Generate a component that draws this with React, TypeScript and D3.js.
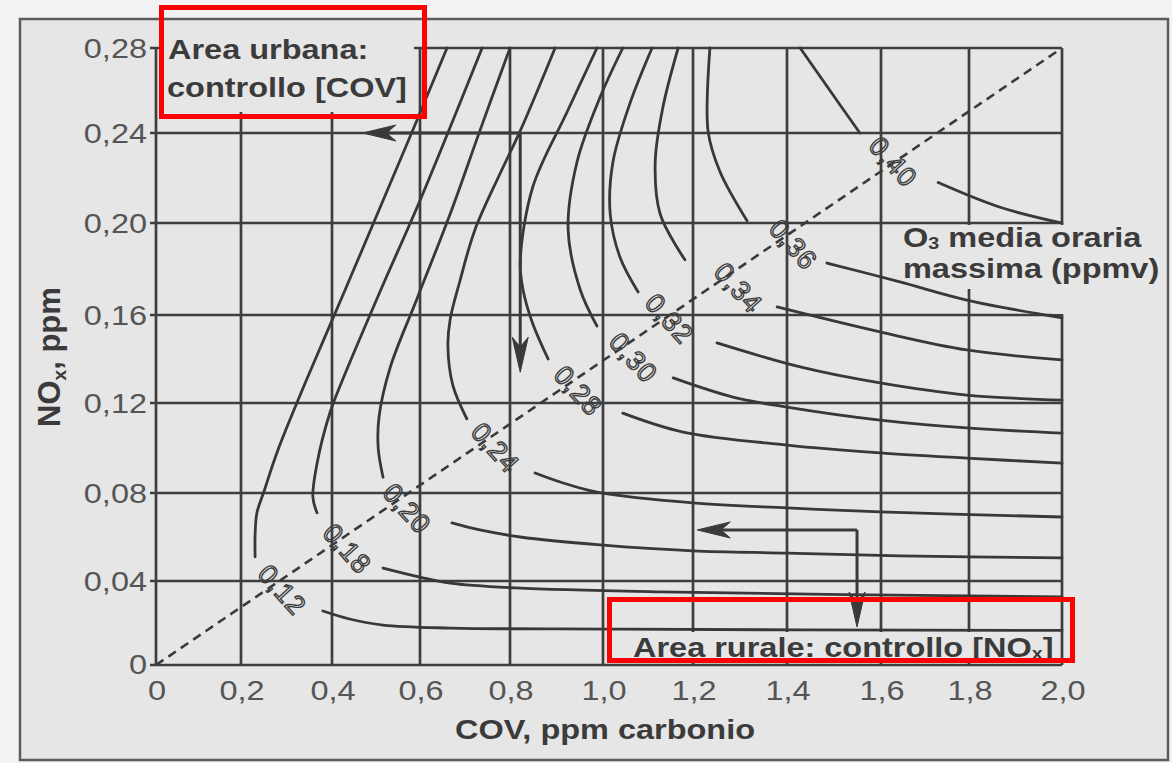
import React from 'react';
import * as d3 from 'd3';

// ---- axes ----
const xTicks = [0, 0.2, 0.4, 0.6, 0.8, 1.0, 1.2, 1.4, 1.6, 1.8, 2.0];
const xTickLabels = ['0', '0,2', '0,4', '0,6', '0,8', '1,0', '1,2', '1,4', '1,6', '1,8', '2,0'];
const yTicks = [0, 0.04, 0.08, 0.12, 0.16, 0.2, 0.24, 0.28];
const yTickLabels = ['0', '0,04', '0,08', '0,12', '0,16', '0,20', '0,24', '0,28'];

// ---- ozone isopleths (COV ppmC, NOx ppm) ----
const isoLabels = ['0,12', '0,18', '0,20', '0,24', '0,28', '0,30', '0,32', '0,34', '0,36', '0,40'];
const upperBranches: number[][][] = [
  [[0.66, 0.28], [0.589, 0.244], [0.516, 0.21], [0.43, 0.171], [0.345, 0.131], [0.281, 0.099], [0.251, 0.081], [0.235, 0.071], [0.231, 0.061], [0.231, 0.051]],
  [[0.738, 0.28], [0.6, 0.21], [0.511, 0.171], [0.425, 0.131], [0.396, 0.116], [0.367, 0.093], [0.358, 0.078], [0.367, 0.071]],
  [[0.8, 0.28], [0.733, 0.241], [0.667, 0.204], [0.593, 0.167], [0.532, 0.136], [0.507, 0.114], [0.505, 0.1], [0.516, 0.087]],
  [[0.897, 0.28], [0.822, 0.241], [0.778, 0.222], [0.722, 0.197], [0.689, 0.175], [0.667, 0.158], [0.662, 0.146], [0.673, 0.128], [0.704, 0.113]],
  [[0.987, 0.28], [0.923, 0.25], [0.849, 0.216], [0.822, 0.183], [0.828, 0.171], [0.849, 0.156], [0.882, 0.14]],
  [[1.044, 0.28], [0.994, 0.257], [0.944, 0.227], [0.925, 0.197], [0.951, 0.171], [0.987, 0.155]],
  [[1.109, 0.28], [1.06, 0.254], [1.022, 0.227], [1.016, 0.204], [1.038, 0.185], [1.078, 0.17]],
  [[1.167, 0.28], [1.133, 0.252], [1.116, 0.227], [1.127, 0.204], [1.182, 0.184]],
  [[1.236, 0.28], [1.232, 0.241], [1.257, 0.223], [1.315, 0.201]],
  [[1.428, 0.28], [1.485, 0.262], [1.555, 0.24]],
];
const lowerBranches: number[][][] = [
  [[0.38, 0.0257], [0.44, 0.0219], [0.516, 0.019], [0.667, 0.0176], [1.02, 0.0171], [1.428, 0.0167], [2.0, 0.0165]],
  [[0.516, 0.0459], [0.6, 0.0418], [0.667, 0.039], [0.813, 0.0367], [1.127, 0.0348], [2.0, 0.0324]],
  [[0.671, 0.0664], [0.733, 0.0632], [0.822, 0.06], [0.994, 0.0564], [1.2, 0.0537], [1.4, 0.0527], [1.643, 0.0514], [2.0, 0.0505]],
  [[0.854, 0.0889], [0.908, 0.0849], [0.987, 0.0804], [1.2, 0.0755], [1.4, 0.0732], [1.598, 0.0714], [2.0, 0.0691]],
  [[1.044, 0.1155], [1.178, 0.1071], [1.4, 0.1013], [1.598, 0.0978], [1.795, 0.0955], [2.0, 0.0933]],
  [[1.156, 0.1314], [1.285, 0.1227], [1.4, 0.1182], [1.598, 0.1124], [1.795, 0.1089], [2.0, 0.1066]],
  [[1.251, 0.1473], [1.428, 0.1364], [1.598, 0.1291], [1.795, 0.1236], [2.0, 0.1213]],
  [[1.379, 0.1635], [1.598, 0.1523], [1.795, 0.1441], [2.0, 0.1396]],
  [[1.485, 0.1826], [1.643, 0.1744], [1.795, 0.1665], [2.0, 0.1587]],
  [[1.73, 0.218], [1.867, 0.207], [2.0, 0.2]],
];
const labelCov = [0.29, 0.434, 0.57, 0.767, 0.946, 1.067, 1.147, 1.296, 1.413, 1.627];
const labelNox = [0.0357, 0.0546, 0.0728, 0.1, 0.1255, 0.1405, 0.1582, 0.1717, 0.1905, 0.2271];

// NOx/COV = 0.14 ratio line
const ratioLine = [[0, 0], [2.0, 0.28]];

// control arrows: origin, tip to the left, tip downward
const arrowOrigins = [[0.822, 0.24], [1.549, 0.0632]];
const arrowTipsLeft = [[0.47, 0.24], [1.209, 0.0632]];
const arrowTipsDown = [[0.822, 0.134], [1.549, 0.0181]];

const FONT = "'Liberation Sans', Arial, Helvetica, sans-serif";
const INK = '#3b3b3b';
const PAPER = '#e6e6e6';
const SX = 1.16;

function T(props: any) {
  const { x, y, anchor = 'start', size = 28, weight = 'normal', fill = INK, sx = SX, children } = props;
  return (
    <text
      transform={`translate(${x},${y}) scale(${sx},1)`}
      textAnchor={anchor}
      fontSize={size}
      fontWeight={weight}
      fill={fill}
      fontFamily={FONT}
    >
      {children}
    </text>
  );
}

function arrowHead(tip: number[], from: number[], len: number, half: number) {
  const dx = tip[0] - from[0];
  const dy = tip[1] - from[1];
  const d = Math.hypot(dx, dy) || 1;
  const ux = dx / d;
  const uy = dy / d;
  const px = -uy;
  const py = ux;
  const bx = tip[0] - ux * len;
  const by = tip[1] - uy * len;
  const nx = tip[0] - ux * len * 0.72;
  const ny = tip[1] - uy * len * 0.72;
  return `M${tip[0]},${tip[1]}L${bx + px * half},${by + py * half}L${nx},${ny}L${bx - px * half},${by - py * half}Z`;
}

export default function App() {
  const W = 1172;
  const H = 763;
  const x = d3.scaleLinear().domain(xTicks).range([156, 241, 332, 420, 510, 603, 693, 787, 881, 969, 1062]);
  const y = d3.scaleLinear().domain(yTicks).range([665, 581, 493, 403, 315, 223, 133, 48]);
  const curved = d3
    .line<number[]>()
    .x((d) => x(d[0]))
    .y((d) => y(d[1]))
    .curve(d3.curveCatmullRom.alpha(0.5));
  const straight = d3
    .line<number[]>()
    .x((d) => x(d[0]))
    .y((d) => y(d[1]));

  const x0 = x(0);
  const x1 = x(2.0);
  const y0 = y(0);
  const y1 = y(0.28);

  return (
    <svg width={W} height={H} style={{ position: 'absolute', left: 0, top: 0 }} xmlns="http://www.w3.org/2000/svg">
      <rect x={0} y={0} width={W} height={H} fill="#f3f3f3" />
      <rect x={20} y={19} width={1148} height={741} fill={PAPER} stroke="#5c5c5c" strokeWidth={2.5} />

      {/* grid */}
      <g stroke="#3e3e3e" strokeWidth={2.7}>
        {xTicks.map((t) => (
          <line key={'gx' + t} x1={x(t)} x2={x(t)} y1={y0} y2={y1} />
        ))}
        {yTicks.map((t) => (
          <line key={'gy' + t} x1={x0 - 6} x2={x1} y1={y(t)} y2={y(t)} />
        ))}
      </g>

      {/* areas kept clear for the labels */}
      <g fill={PAPER}>
        <rect x={159} y={43} width={255} height={69} />
        <rect x={903} y={225} width={261} height={64} />
        <rect x={1052} y={225} width={18} height={89} />
        <rect x={622} y={632} width={436} height={31} />
      </g>

      {/* ratio line */}
      <path d={straight(ratioLine as any) || ''} fill="none" stroke="#3a3a3a" strokeWidth={2.6} strokeDasharray="9 6" />

      {/* isopleths */}
      <g fill="none" stroke="#383838" strokeWidth={2.8} strokeLinecap="round">
        {upperBranches.map((b, i) => (
          <path key={'u' + i} d={curved(b as any) || ''} />
        ))}
        {lowerBranches.map((b, i) => (
          <path key={'l' + i} d={curved(b as any) || ''} />
        ))}
      </g>

      {/* arrows */}
      <g stroke="#3a3a3a" strokeWidth={3} fill="#3a3a3a">
        {arrowOrigins.map((o, i) => {
          const op = [x(o[0]), y(o[1])];
          const tl = [x(arrowTipsLeft[i][0]), y(arrowTipsLeft[i][1])];
          const td = [x(arrowTipsDown[i][0]), y(arrowTipsDown[i][1])];
          return (
            <g key={'a' + i}>
              <line x1={op[0]} y1={op[1]} x2={tl[0] + 20} y2={tl[1]} />
              <line x1={op[0]} y1={op[1]} x2={td[0]} y2={td[1] - 20} />
              <path d={arrowHead(tl, op, 33, 8)} strokeWidth={1} />
              <path d={arrowHead(td, op, 35, 8)} strokeWidth={1} />
            </g>
          );
        })}
      </g>

      {/* isopleth labels */}
      <g fontFamily={FONT} fontSize={27} fill="none" stroke="#3c3c3c" strokeWidth={1.35}>
        {isoLabels.map((s, i) => (
          <text
            key={'il' + i}
            transform={`translate(${x(labelCov[i])},${y(labelNox[i])}) rotate(48)`}
            textAnchor="middle"
            dominantBaseline="central"
            letterSpacing={1}
          >
            {s}
          </text>
        ))}
      </g>

      {/* tick labels */}
      {yTicks.map((t, i) => (
        <T key={'yt' + t} x={147} y={y(t) + (i === 0 ? 9 : 10)} anchor="end" fill="#555" size={28}>
          {yTickLabels[i]}
        </T>
      ))}
      {xTicks.map((t, i) => (
        <T key={'xt' + t} x={x(t) + 1} y={700} anchor="middle" fill="#555" size={28}>
          {xTickLabels[i]}
        </T>
      ))}

      {/* axis titles */}
      <T x={605} y={739} anchor="middle" weight="bold">
        COV, ppm carbonio
      </T>
      <text
        transform="translate(60,357) rotate(-90)"
        textAnchor="middle"
        fontSize={31}
        fontWeight="bold"
        fill={INK}
        fontFamily={FONT}
      >
        NO
        <tspan fontSize={19} dy={6}>x</tspan>
        <tspan dy={-6}>, ppm</tspan>
      </text>

      {/* annotations */}
      <T x={168} y={59} weight="bold">Area urbana:</T>
      <T x={167} y={97} weight="bold">controllo [COV]</T>
      <T x={903} y={247} weight="bold">
        O<tspan fontSize={17} dy={2}>3</tspan>
        <tspan dy={-2}> media oraria</tspan>
      </T>
      <T x={903} y={278} weight="bold">massima (ppmv)</T>
      <T x={633} y={657} weight="bold">
        Area rurale: controllo [NO<tspan fontSize={17} dy={2}>x</tspan>
        <tspan dy={-2}>]</tspan>
      </T>

      {/* highlight boxes */}
      <g fill="none" stroke="#ff0000" strokeWidth={5}>
        <rect x={161.5} y={7.5} width={263} height={109} />
        <rect x={609.5} y={599.5} width={463} height={61} />
      </g>
    </svg>
  );
}
